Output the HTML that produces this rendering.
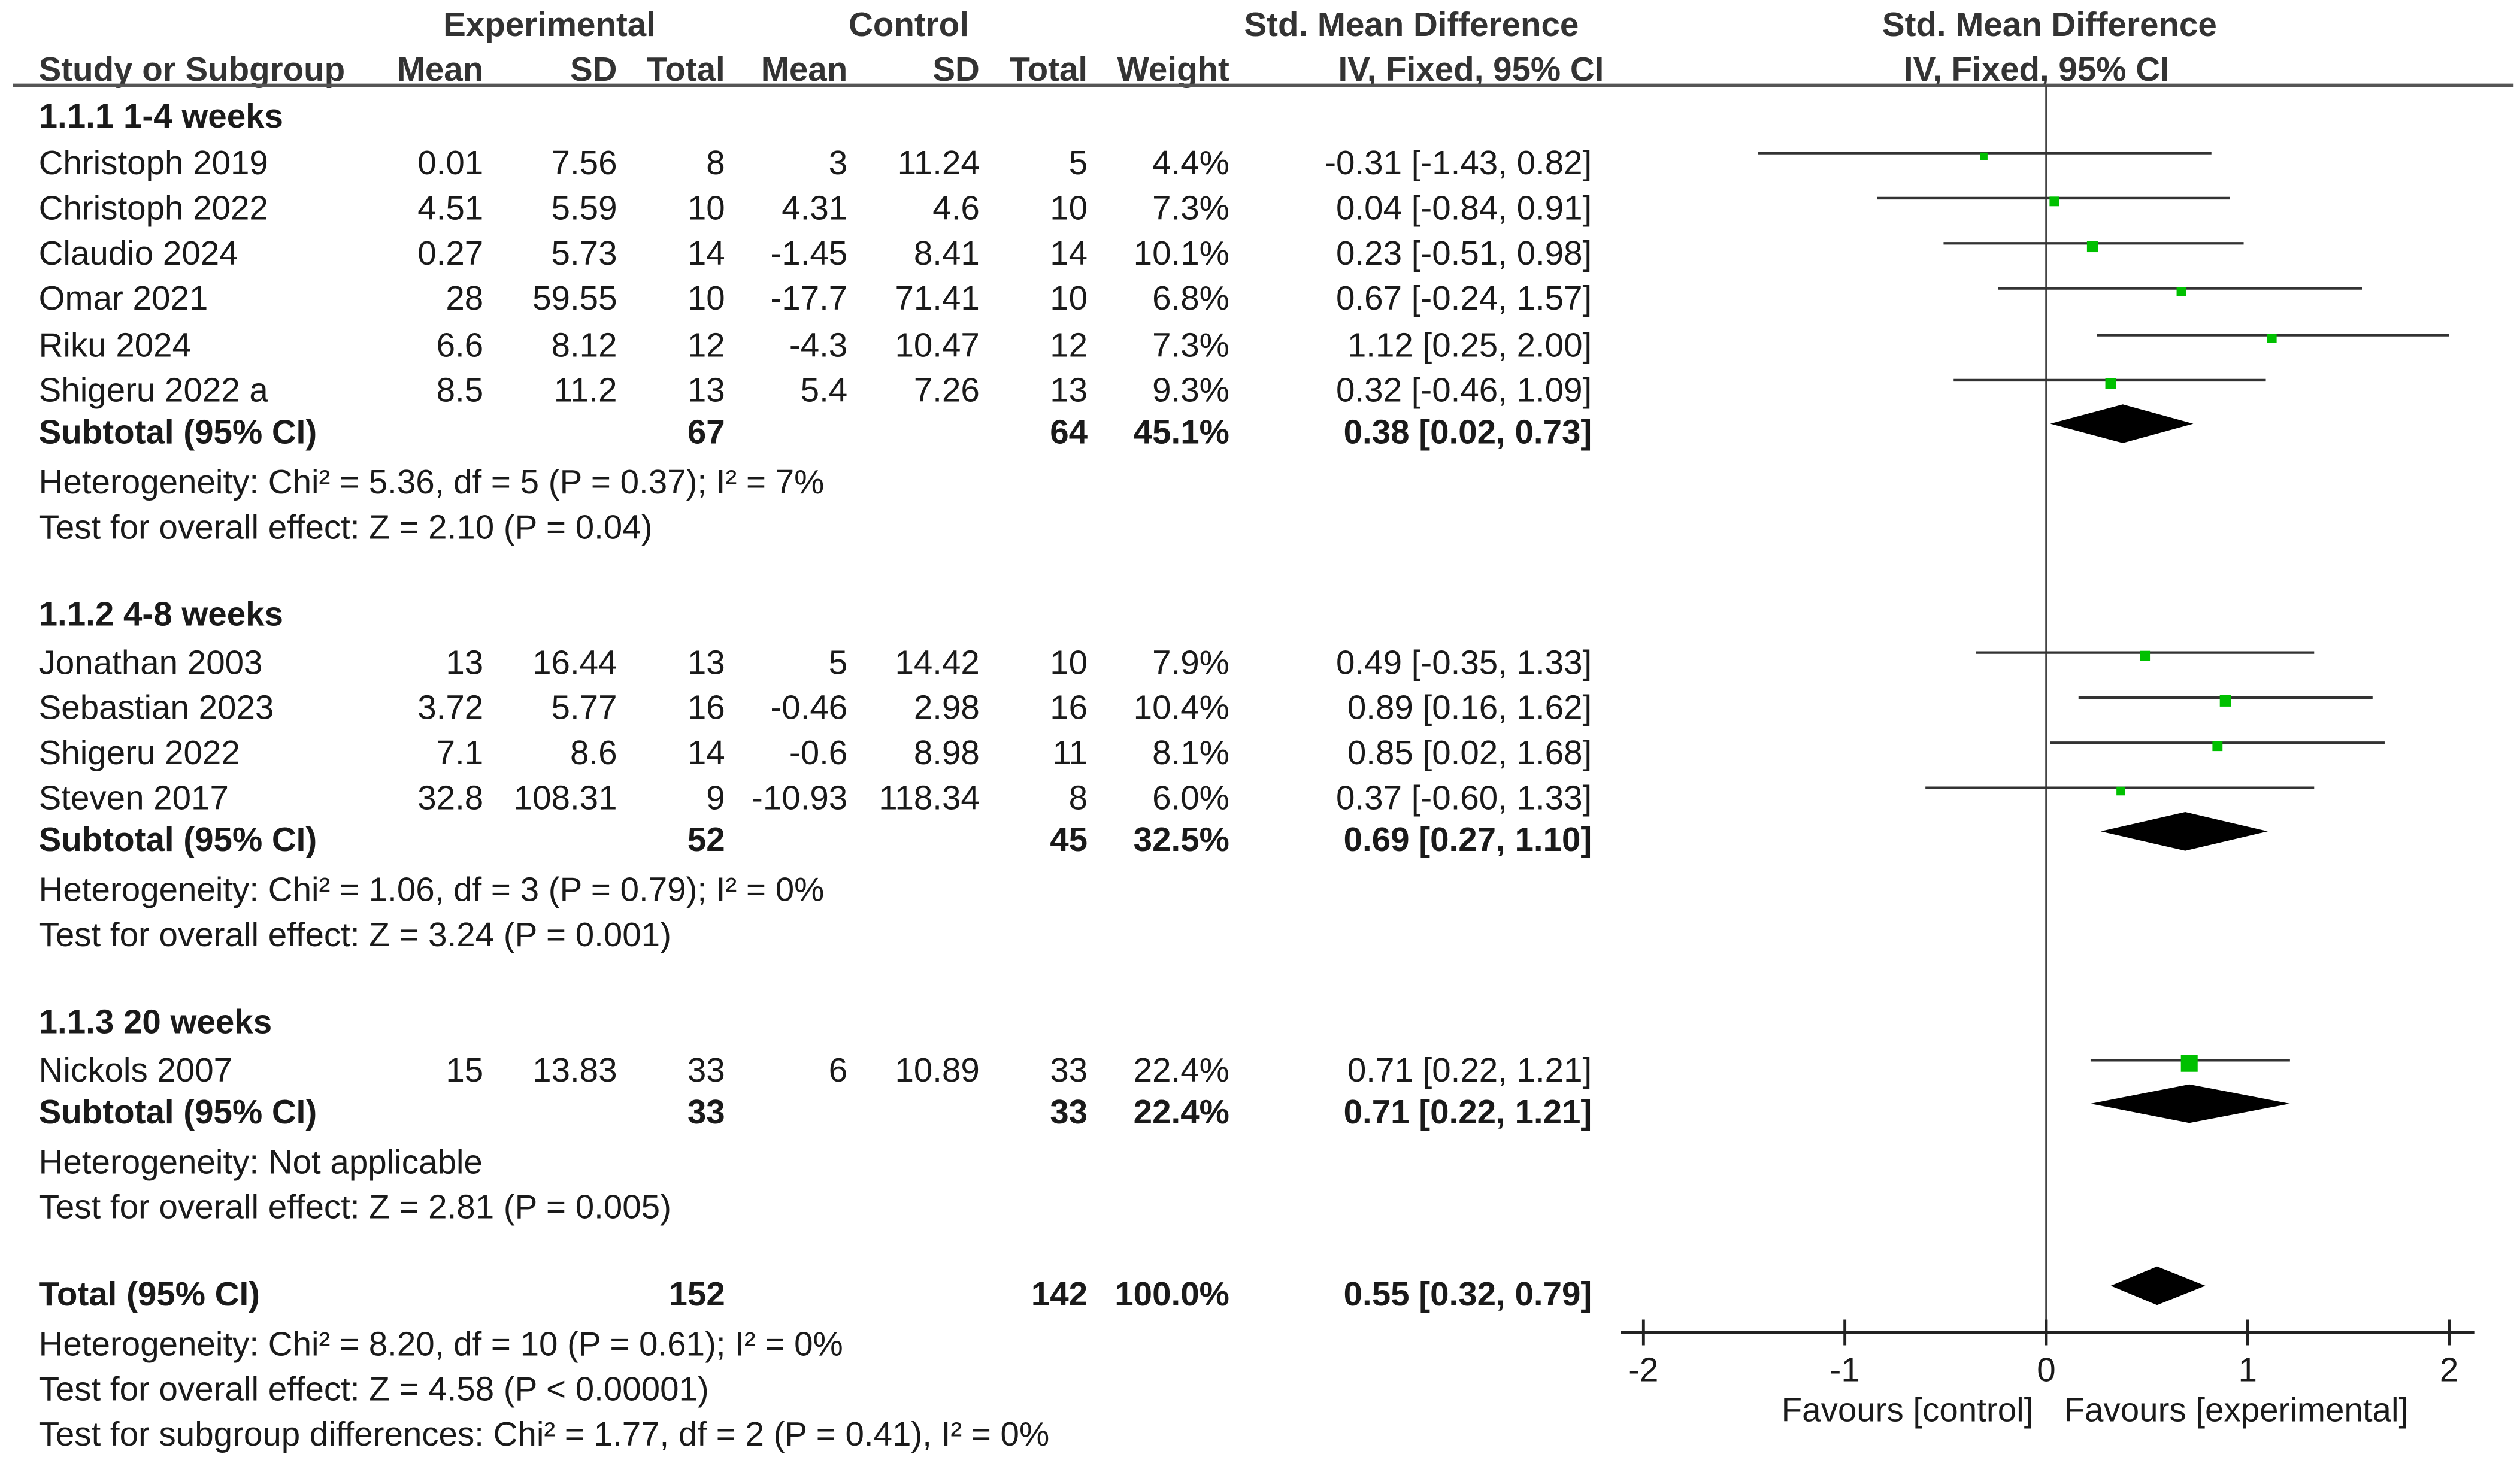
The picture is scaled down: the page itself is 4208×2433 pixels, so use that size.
<!DOCTYPE html>
<html><head><meta charset="utf-8"><style>
html,body{margin:0;padding:0;background:#fff;}
svg{display:block;}
text{font-family:"Liberation Sans",Arial,sans-serif;font-size:21px;fill:#1a1a1a;}
.b{font-weight:bold;}
.h{font-weight:bold;fill:#333;}
</style></head><body>
<svg id="fp" width="4208" height="2433" viewBox="0 0 1564 904.3" xmlns="http://www.w3.org/2000/svg">
<g>
<text class="h" x="341" y="15" text-anchor="middle" dominant-baseline="central">Experimental</text>
<text class="h" x="564" y="15" text-anchor="middle" dominant-baseline="central">Control</text>
<text class="h" x="876" y="15" text-anchor="middle" dominant-baseline="central">Std. Mean Difference</text>
<text class="h" x="1272" y="15" text-anchor="middle" dominant-baseline="central">Std. Mean Difference</text>
<text class="h" x="24" y="43" dominant-baseline="central">Study or Subgroup</text>
<text class="h" x="300" y="43" text-anchor="end" dominant-baseline="central">Mean</text>
<text class="h" x="383" y="43" text-anchor="end" dominant-baseline="central">SD</text>
<text class="h" x="450" y="43" text-anchor="end" dominant-baseline="central">Total</text>
<text class="h" x="526" y="43" text-anchor="end" dominant-baseline="central">Mean</text>
<text class="h" x="608" y="43" text-anchor="end" dominant-baseline="central">SD</text>
<text class="h" x="675" y="43" text-anchor="end" dominant-baseline="central">Total</text>
<text class="h" x="763" y="43" text-anchor="end" dominant-baseline="central">Weight</text>
<text class="h" x="913" y="43" text-anchor="middle" dominant-baseline="central">IV, Fixed, 95% CI</text>
<text class="h" x="1264" y="43" text-anchor="middle" dominant-baseline="central">IV, Fixed, 95% CI</text>
</g>
<line x1="8" y1="53" x2="1560" y2="53" stroke="#555" stroke-width="2.2"/>
<g id="table"></g>
<g id="plot"></g>
</svg>
<script>
const studyNames = ["Christoph 2019","Christoph 2022","Claudio 2024","Omar 2021","Riku 2024","Shigeru 2022 a","Jonathan 2003","Sebastian 2023","Shigeru 2022","Steven 2017","Nickols 2007"];
const studyRowY = [101,129,157,185,214,242,411,439,467,495,664];
const expMean = ["0.01","4.51","0.27","28","6.6","8.5","13","3.72","7.1","32.8","15"];
const expSD = ["7.56","5.59","5.73","59.55","8.12","11.2","16.44","5.77","8.6","108.31","13.83"];
const expN = ["8","10","14","10","12","13","13","16","14","9","33"];
const ctlMean = ["3","4.31","-1.45","-17.7","-4.3","5.4","5","-0.46","-0.6","-10.93","6"];
const ctlSD = ["11.24","4.6","8.41","71.41","10.47","7.26","14.42","2.98","8.98","118.34","10.89"];
const ctlN = ["5","10","14","10","12","13","10","16","11","8","33"];
const weights = [4.4,7.3,10.1,6.8,7.3,9.3,7.9,10.4,8.1,6.0,22.4];
const smd = [-0.31,0.04,0.23,0.67,1.12,0.32,0.49,0.89,0.85,0.37,0.71];
const ciLow = [-1.43,-0.84,-0.51,-0.24,0.25,-0.46,-0.35,0.16,0.02,-0.60,0.22];
const ciHigh = [0.82,0.91,0.98,1.57,2.00,1.09,1.33,1.62,1.68,1.33,1.21];

const pooledLabels = ["Subtotal (95% CI)","Subtotal (95% CI)","Subtotal (95% CI)","Total (95% CI)"];
const pooledRowY = [268,521,690,803];
const pooledExpN = ["67","52","33","152"];
const pooledCtlN = ["64","45","33","142"];
const pooledWeight = [45.1,32.5,22.4,100.0];
const pooledEst = [0.38,0.69,0.71,0.55];
const pooledLow = [0.02,0.27,0.22,0.32];
const pooledHigh = [0.73,1.10,1.21,0.79];

const xTicks = [-2,-1,0,1,2];
const groupTitles = [["1.1.1 1-4 weeks",72],["1.1.2 4-8 weeks",381],["1.1.3 20 weeks",634]];
const notes = [["Heterogeneity: Chi² = 5.36, df = 5 (P = 0.37); I² = 7%",299],["Test for overall effect: Z = 2.10 (P = 0.04)",327],
["Heterogeneity: Chi² = 1.06, df = 3 (P = 0.79); I² = 0%",552],["Test for overall effect: Z = 3.24 (P = 0.001)",580],
["Heterogeneity: Not applicable",721],["Test for overall effect: Z = 2.81 (P = 0.005)",749],
["Heterogeneity: Chi² = 8.20, df = 10 (P = 0.61); I² = 0%",834],["Test for overall effect: Z = 4.58 (P < 0.00001)",862],
["Test for subgroup differences: Chi² = 1.77, df = 2 (P = 0.41), I² = 0%",890]];

const NS="http://www.w3.org/2000/svg";
const xScale = v => 1270 + v*125;
const fmt = v => v.toFixed(2);
const ciText = (e,l,h) => fmt(e)+" ["+fmt(l)+", "+fmt(h)+"]";
const table=document.getElementById('table'), plot=document.getElementById('plot');
function mk(parent,tag,attrs){const e=document.createElementNS(NS,tag);for(const k in attrs)e.setAttribute(k,attrs[k]);parent.appendChild(e);return e;}
function txt(parent,s,x,y,anchor,cls){const t=mk(parent,'text',{x:x,y:y,'text-anchor':anchor||'start','dominant-baseline':'central'});if(cls)t.setAttribute('class',cls);t.textContent=s;return t;}

groupTitles.forEach(g=>{const t=txt(table,g[0],24,g[1],'start','b');

});
notes.forEach(n=>{const t=txt(table,n[0],24,n[1]);

});

const cols=[300,383,450,526,608,675,763,988];
studyNames.forEach((nm,i)=>{
  const y=studyRowY[i];
  const g=mk(table,'g',{});
  
  
  txt(g,nm,24,y);
  [expMean[i],expSD[i],expN[i],ctlMean[i],ctlSD[i],ctlN[i],weights[i].toFixed(1)+"%",ciText(smd[i],ciLow[i],ciHigh[i])].forEach((s,j)=>txt(g,s,cols[j],y,'end'));
});
pooledLabels.forEach((nm,i)=>{
  const y=pooledRowY[i];
  const g=mk(table,'g',{class:'b'});
  
  
  txt(g,nm,24,y,'start','b');
  txt(g,pooledExpN[i],450,y,'end','b');
  txt(g,pooledCtlN[i],675,y,'end','b');
  txt(g,pooledWeight[i].toFixed(1)+"%",763,y,'end','b');
  txt(g,ciText(pooledEst[i],pooledLow[i],pooledHigh[i]),988,y,'end','b');
});

const nl=mk(plot,'line',{x1:xScale(0),y1:53,x2:xScale(0),y2:827,stroke:'#444','stroke-width':1.3});


const ax=mk(plot,'line',{x1:1006,y1:827,x2:1536,y2:827,stroke:'#222','stroke-width':2.2});


xTicks.forEach(v=>{
  const tk=mk(plot,'line',{x1:xScale(v),y1:819,x2:xScale(v),y2:835,stroke:'#222','stroke-width':1.8});
  
  
  const tl=txt(plot,String(v),xScale(v),850,'middle');
  tl.setAttribute('fill','#333');
  
  
});
const fc=txt(plot,'Favours [control]',1262,875,'end');fc.setAttribute('fill','#555');


const fe=txt(plot,'Favours [experimental]',1281,875,'start');fe.setAttribute('fill','#555');



smd.forEach((v,i)=>{
  const y=studyRowY[i]-6;
  const l=mk(plot,'line',{x1:xScale(ciLow[i]),y1:y,x2:xScale(ciHigh[i]),y2:y,stroke:'#333','stroke-width':1.6});
  
  
  const s=2.2*Math.sqrt(weights[i]);
  const r=mk(plot,'rect',{x:xScale(v)-s/2,y:y+2-s/2,width:s,height:s,fill:'#00c000'});
  
  
});
pooledEst.forEach((v,i)=>{
  const y=pooledRowY[i]-5, h=12;
  const d=mk(plot,'polygon',{points:[xScale(pooledLow[i])+','+y, xScale(v)+','+(y-h), xScale(pooledHigh[i])+','+y, xScale(v)+','+(y+h)].join(' '),fill:'#000'});
  
  
});
</script>
</body></html>
